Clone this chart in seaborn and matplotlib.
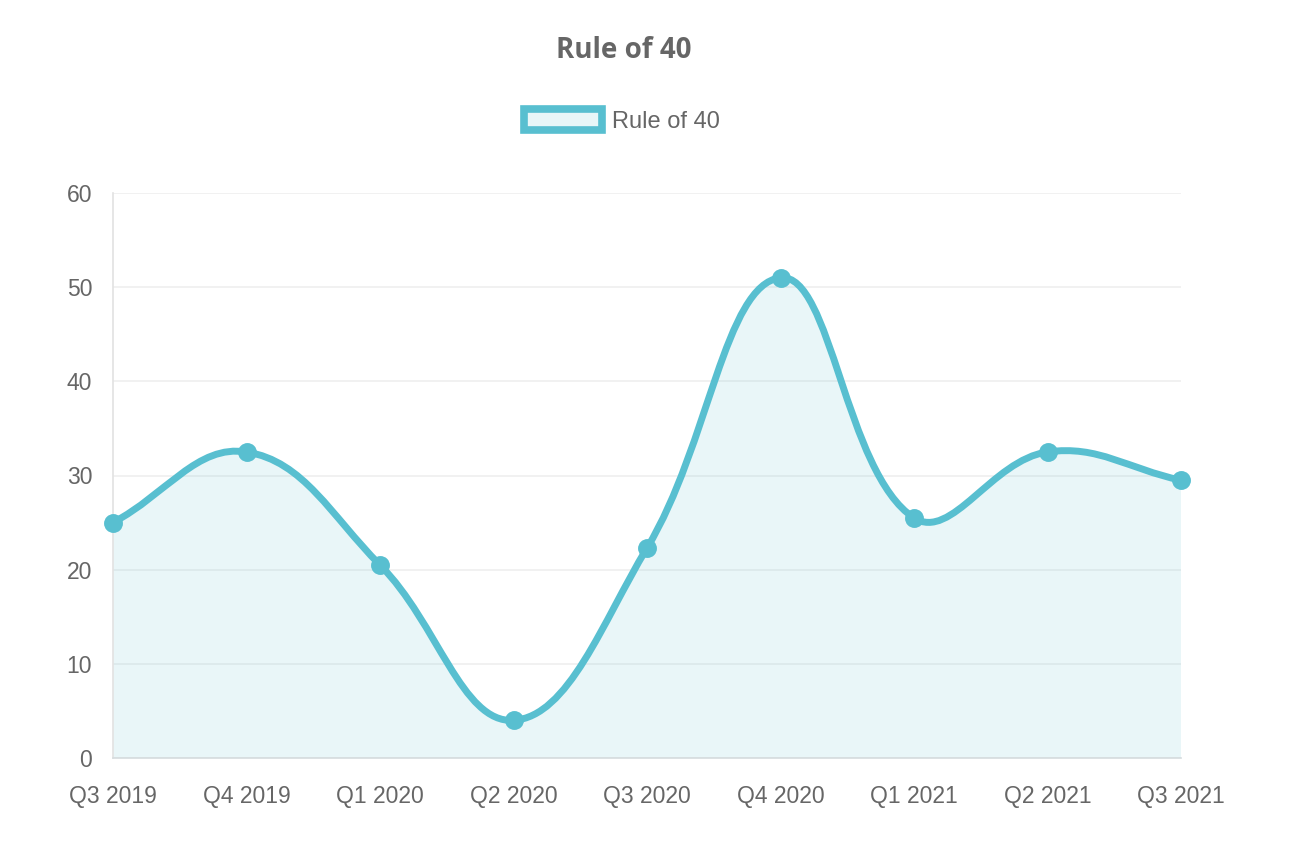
import numpy as np
import pandas as pd
import matplotlib
matplotlib.use("Agg")
import matplotlib.pyplot as plt
import seaborn as sns
from matplotlib.path import Path
from matplotlib.patches import PathPatch, Patch

# -------------------------------------------------------
# Data
quarters = ["Q3 2019", "Q4 2019", "Q1 2020", "Q2 2020", "Q3 2020",
            "Q4 2020", "Q1 2021", "Q2 2021", "Q3 2021"]
rule_of_40 = [25, 32.5, 20.5, 4, 22.3, 51, 25.5, 32.5, 29.5]
y_ticks = [0, 10, 20, 30, 40, 50, 60]

line_color = "#58BFD0"
fill_color = "#E8F6F8"
text_color = "#666666"
grid_color = "#EEEEEE"

df = pd.DataFrame({"quarter": quarters, "value": rule_of_40})
df["pos"] = np.arange(len(df))

sns.set_theme(style="white")
plt.rcParams['font.family'] = ['Liberation Sans', 'DejaVu Sans']

fig = plt.figure(figsize=(12.96, 8.66), dpi=100)
ax = fig.add_axes([113 / 1296, 108 / 866, 1068 / 1296, 565 / 866])

# points
sns.scatterplot(data=df, x="pos", y="value", s=185, color=line_color,
                edgecolor=line_color, linewidth=0, zorder=5, clip_on=False,
                legend=False, ax=ax)

ax.set_xlim(0, len(quarters) - 1)
ax.set_ylim(y_ticks[0], y_ticks[-1])

# -------------------------------------------------------
# Smooth curve (spline with tension, computed in pixel space)
pts = ax.transData.transform(np.column_stack([df["pos"], df["value"]]))
area = ax.transData.transform([[0, y_ticks[0]], [len(quarters) - 1, y_ticks[-1]]])
tension = 0.4
n = len(pts)
cps = []
for i in range(n):
    prev = pts[max(i - 1, 0)]
    cur = pts[i]
    nxt = pts[min(i + 1, n - 1)]
    d01 = np.hypot(*(cur - prev))
    d12 = np.hypot(*(nxt - cur))
    tot = d01 + d12
    s01 = d01 / tot if tot else 0
    s12 = d12 / tot if tot else 0
    cp_prev = cur - tension * s01 * (nxt - prev)
    cp_next = cur + tension * s12 * (nxt - prev)
    cp_prev[1] = np.clip(cp_prev[1], area[0, 1], area[1, 1])
    cp_next[1] = np.clip(cp_next[1], area[0, 1], area[1, 1])
    cps.append((cp_prev, cp_next))

verts = [pts[0]]
codes = [Path.MOVETO]
for i in range(n - 1):
    verts += [cps[i][1], cps[i + 1][0], pts[i + 1]]
    codes += [Path.CURVE4] * 3
verts = ax.transData.inverted().transform(np.array(verts))

line_path = Path(verts, codes)
fill_verts = np.vstack([verts, [[df["pos"].iloc[-1], 0], [df["pos"].iloc[0], 0], verts[0]]])
fill_codes = codes + [Path.LINETO, Path.LINETO, Path.CLOSEPOLY]
fill_path = Path(fill_verts, fill_codes)

ax.add_patch(PathPatch(fill_path, facecolor=line_color, alpha=0.13,
                       edgecolor="none", zorder=1))
ax.add_patch(PathPatch(line_path, facecolor="none", edgecolor=line_color,
                       linewidth=5, capstyle="round", joinstyle="round", zorder=4))

# -------------------------------------------------------
# Axes styling
ax.set_xticks(df["pos"])
ax.set_xticklabels(quarters)
ax.set_yticks(y_ticks)
ax.set_xlabel("")
ax.set_ylabel("")
ax.yaxis.grid(True, color=grid_color, linewidth=1.1)
ax.xaxis.grid(False)
ax.set_axisbelow(True)

for side in ["top", "right"]:
    ax.spines[side].set_visible(False)
ax.spines["left"].set_color("#E2E2E2")
ax.spines["left"].set_linewidth(1.2)
ax.spines["bottom"].set_color("#D6DCDE")
ax.spines["bottom"].set_linewidth(1.2)

ax.tick_params(axis="y", length=11, width=1.1, color=grid_color, pad=4,
               labelsize=16.5, labelcolor=text_color)
ax.tick_params(axis="x", length=0, pad=19.5, labelsize=16.5, labelcolor=text_color)

# Title and legend
fig.text(624 / 1296, 1 - 51 / 866, "Rule of 40", ha="center", va="center",
         fontsize=20, fontweight="bold", color=text_color,
         family=["Open Sans", "DejaVu Sans"])

handle = Patch(facecolor=fill_color, edgecolor=line_color, linewidth=5.5,
               label="Rule of 40")
fig.legend(handles=[handle], loc="center",
           bbox_to_anchor=(622 / 1296, 1 - 121 / 866), frameon=False,
           fontsize=17, handlelength=3.3, handleheight=1.0,
           handletextpad=0.45, labelcolor=text_color)

fig.savefig("out.png", dpi=100)
